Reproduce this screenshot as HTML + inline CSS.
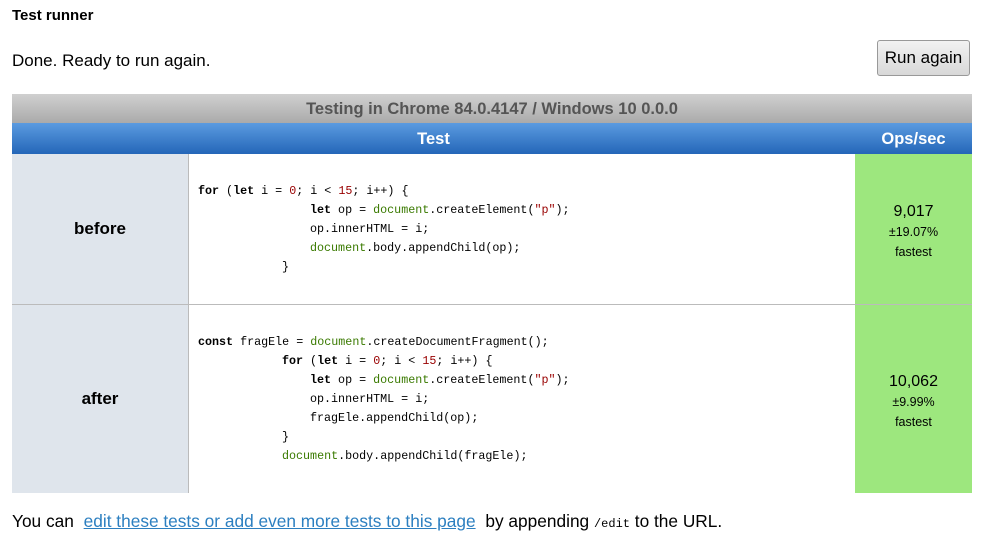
<!DOCTYPE html>
<html><head><meta charset="utf-8"><style>
body{margin:0;width:989px;height:545px;background:#fff;position:relative;overflow:hidden;font-family:"Liberation Sans","Noto Sans CJK SC",sans-serif;color:#000}
.a{position:absolute;white-space:nowrap}
.code{font-family:"Liberation Mono","Noto Sans CJK SC",monospace;font-size:11.7px;line-height:19px}
.k{font-weight:bold;color:#000}
.g{color:#3a7a00}.n{color:#900}
</style></head><body>
<div class="a" style="left:12px;top:7px;font-size:15px;font-weight:bold">Test runner</div>
<div class="a" style="left:12px;top:51px;font-size:17px">Done. Ready to run again.</div>
<div class="a" style="left:877px;top:40px;width:93px;height:36px;box-sizing:border-box;border:1px solid #999;border-radius:3px;background:linear-gradient(#f2f2f2,#d8d8d8);font-size:17px;text-align:center;line-height:34px">Run again</div>
<div class="a" style="left:12px;top:94px;width:960px;height:29px;background:linear-gradient(#d0d0d0,#aaa);color:#555;font-weight:bold;font-size:16.5px;text-align:center;line-height:31px">Testing in Chrome 84.0.4147 / Windows 10 0.0.0</div>
<div class="a" style="left:12px;top:123px;width:960px;height:31px;background:linear-gradient(#5b9be0,#2466b8);color:#fff;font-weight:bold;font-size:16.5px;line-height:33px">
<span class="a" style="left:176px;width:491px;text-align:center">Test</span>
<span class="a" style="left:843px;width:117px;text-align:center">Ops/sec</span></div>
<div class="a" style="left:12px;top:154px;width:176px;height:339px;background:#dfe5ec"></div>
<div class="a" style="left:855px;top:154px;width:117px;height:339px;background:#9de77e"></div>
<div class="a" style="left:188px;top:154px;width:1px;height:339px;background:#bbb"></div>
<div class="a" style="left:12px;top:304px;width:960px;height:1px;background:#bbb"></div>
<div class="a" style="left:12px;top:219px;width:176px;text-align:center;font-weight:bold;font-size:17px">before</div>
<div class="a" style="left:12px;top:389px;width:176px;text-align:center;font-weight:bold;font-size:17px">after</div>
<div class="a code" style="left:198px;top:182px"><span class="k">for</span> (<span class="k">let</span> i = <span class="n">0</span>; i &lt; <span class="n">15</span>; i++) {<br>
<span style="padding-left:112px"></span><span class="k">let</span> op = <span class="g">document</span>.createElement(<span class="n">"p"</span>);<br>
<span style="padding-left:112px"></span>op.innerHTML = i;<br>
<span style="padding-left:112px"></span><span class="g">document</span>.body.appendChild(op);<br>
<span style="padding-left:84px"></span>}</div>
<div class="a code" style="left:198px;top:333px"><span class="k">const</span> fragEle = <span class="g">document</span>.createDocumentFragment();<br>
<span style="padding-left:84px"></span><span class="k">for</span> (<span class="k">let</span> i = <span class="n">0</span>; i &lt; <span class="n">15</span>; i++) {<br>
<span style="padding-left:112px"></span><span class="k">let</span> op = <span class="g">document</span>.createElement(<span class="n">"p"</span>);<br>
<span style="padding-left:112px"></span>op.innerHTML = i;<br>
<span style="padding-left:112px"></span>fragEle.appendChild(op);<br>
<span style="padding-left:84px"></span>}<br>
<span style="padding-left:84px"></span><span class="g">document</span>.body.appendChild(fragEle);</div>
<div class="a" style="left:855px;top:202px;width:117px;text-align:center;font-size:16px;line-height:20px">9,017<br><span style="font-size:12.5px;line-height:19px">±19.07%<br>fastest</span></div>
<div class="a" style="left:855px;top:372px;width:117px;text-align:center;font-size:16px;line-height:20px">10,062<br><span style="font-size:12.5px;line-height:19px">±9.99%<br>fastest</span></div>
<div class="a" style="left:12px;top:511px;font-size:17.3px">You can <span style="color:#2c7fc0;text-decoration:underline;margin:0 5px">edit these tests or add even more tests to this page</span> by appending <span style="font-family:'Liberation Mono',monospace;font-size:12px">/edit</span> to the URL.</div>
</body></html>
